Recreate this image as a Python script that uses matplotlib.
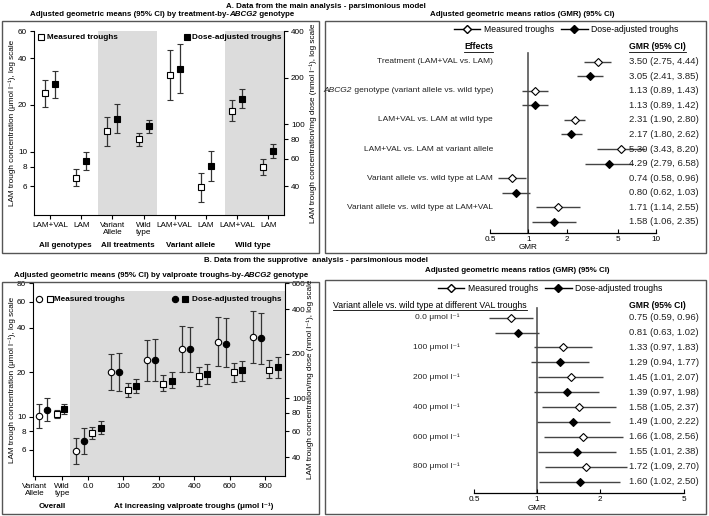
import matplotlib
matplotlib.use("Agg")
import matplotlib.pyplot as plt
import numpy as np
from matplotlib.lines import Line2D
from matplotlib.patches import Rectangle
from matplotlib.ticker import FixedLocator, FuncFormatter, NullLocator
from matplotlib.transforms import blended_transform_factory

plt.rcParams["font.family"] = ["Liberation Sans", "DejaVu Sans"]
plt.rcParams["font.size"] = 5.9

# ---- A, left: geometric means by treatment-by-ABCG2 genotype
cat_labels_a = ["LAM+VAL", "LAM", "Variant\nAllele", "Wild\ntype", "LAM+VAL", "LAM", "LAM+VAL", "LAM"]
group_labels_a = ["All genotypes", "All treatments", "Variant allele", "Wild type"]
meas_a = [23.9, 6.8, 13.5, 12.1, 31.1, 5.9, 18.4, 7.9]
meas_a_lo = [19.4, 6.0, 10.9, 10.9, 21.5, 4.7, 15.8, 7.05]
meas_a_hi = [29.0, 7.7, 16.7, 13.2, 45.3, 7.3, 21.4, 8.9]
dose_a = [181, 58.3, 108.6, 97, 229, 53.8, 145.6, 66.9]
dose_a_lo = [147, 51, 88, 88, 159, 42.8, 127, 60.2]
dose_a_hi = [221, 66, 135, 106, 331, 67, 169, 74.6]

# ---- A, right: GMR forest (italic parts given as (text, style) pairs)
effects_a = ["Treatment (LAM+VAL vs. LAM)",
             [("ABCG2", "italic"), (" genotype (variant allele vs. wild type)", "normal")],
             "LAM+VAL vs. LAM at wild type", "LAM+VAL vs. LAM at variant allele",
             "Variant allele vs. wild type at LAM", "Variant allele vs. wild type at LAM+VAL"]
gmr_meas_a = [3.50, 1.13, 2.31, 5.30, 0.74, 1.71]
gmr_meas_a_lo = [2.75, 0.89, 1.90, 3.43, 0.58, 1.14]
gmr_meas_a_hi = [4.44, 1.43, 2.80, 8.20, 0.96, 2.55]
gmr_dose_a = [3.05, 1.13, 2.17, 4.29, 0.80, 1.58]
gmr_dose_a_lo = [2.41, 0.89, 1.80, 2.79, 0.62, 1.06]
gmr_dose_a_hi = [3.85, 1.42, 2.62, 6.58, 1.03, 2.35]

# ---- B, left: geometric means by valproate troughs-by-ABCG2 genotype
overall_labels = ["Variant\nAllele", "Wild\ntype"]
overall_meas = [10.1, 10.4]
overall_meas_lo = [8.4, 9.75]
overall_meas_hi = [12.2, 11.1]
overall_dose = [82.9, 84.5]
overall_dose_lo = [70, 78]
overall_dose_hi = [100.8, 91.6]
val_levels = ["0.0", "100", "200", "400", "600", "800"]
var_meas = [5.89, 20.0, 24.1, 28.7, 32.2, 34.8]
var_meas_lo = [4.83, 15.2, 17.4, 20.2, 22.0, 23.2]
var_meas_hi = [7.21, 26.5, 32.9, 41.3, 47.1, 52.0]
var_dose = [51.4, 151.7, 181, 215, 235, 255]
var_dose_lo = [41.9, 112, 132, 150, 162, 170]
var_dose_hi = [63, 203, 251, 304, 347, 376]
wt_meas = [7.72, 15.3, 16.8, 18.9, 20.0, 20.7]
wt_meas_lo = [7.07, 13.7, 14.9, 16.2, 17.1, 18.2]
wt_meas_hi = [8.5, 17.0, 19.1, 21.6, 23.2, 24.2]
wt_dose = [63.2, 121, 132, 146, 155, 162]
wt_dose_lo = [57, 108, 117, 126, 131, 138]
wt_dose_hi = [70.5, 135, 150, 170, 180, 191]

# ---- B, right: GMR forest by VAL trough
gmr_meas_b = [0.75, 1.33, 1.45, 1.58, 1.66, 1.72]
gmr_meas_b_lo = [0.59, 0.97, 1.01, 1.05, 1.08, 1.09]
gmr_meas_b_hi = [0.96, 1.83, 2.07, 2.37, 2.56, 2.70]
gmr_dose_b = [0.81, 1.29, 1.39, 1.49, 1.55, 1.60]
gmr_dose_b_lo = [0.63, 0.94, 0.97, 1.00, 1.01, 1.02]
gmr_dose_b_hi = [1.02, 1.77, 1.98, 2.22, 2.38, 2.50]

W, H = 709, 516
fig = plt.figure(figsize=(W / 100, H / 100), dpi=100)
renderer = fig.canvas.get_renderer()
SHADE = "#dcdcdc"
ECOL = "#333333"
TITLE_FS = 5.65
SUB_FS = 5.7
LEG_FS = 5.9
GROUP_FS = 5.8
ROW_FS = 6.8
LAB_FS = 6.0
HEAD_FS = 6.2


def rect(x0, y0, x1, y1):
    """Pixel box (top-left origin) -> figure fraction rect."""
    return [x0 / W, 1 - y1 / H, (x1 - x0) / W, (y1 - y0) / H]


def ftext(px, py, s, **kw):
    return fig.text(px / W, 1 - py / H, s, **kw)


def rich(xd, yd, parts, ha="center", **kw):
    """Draw (text, style) parts side by side; xd, yd in display pixels."""
    texts = [fig.text(0, 0, s, fontstyle=st, va="center", **kw) for s, st in parts]
    widths = [t.get_window_extent(renderer).width for t in texts]
    start = xd - {"center": 0.5, "right": 1.0, "left": 0.0}[ha] * sum(widths)
    for t, w in zip(texts, widths):
        t.set_position((start / W, yd / H))
        start += w
    return texts


def fmarker(px, py, marker, filled):
    fig.add_artist(Line2D([px / W], [1 - py / H], marker=marker, ms=4.5, mec="black",
                          mfc="black" if filled else "white", mew=0.8, ls="none",
                          transform=fig.transFigure))


def underline(txt, lw=0.6):
    bb = txt.get_window_extent(renderer)
    y = (bb.y0 - 0.3) / H
    fig.add_artist(Line2D([bb.x0 / W, bb.x1 / W], [y, y], transform=fig.transFigure,
                          color="black", lw=lw))


def err(v, lo, hi):
    v, lo, hi = np.asarray(v), np.asarray(lo), np.asarray(hi)
    return [v - lo, hi - v]


def means_errorbar(ax, x, v, lo, hi, marker, filled):
    ax.errorbar(x, v, yerr=err(v, lo, hi), fmt=marker, ms=4.6, mec="black",
                mfc="black" if filled else "white", mew=0.8, ecolor=ECOL,
                elinewidth=0.9, capsize=2.5, capthick=0.9, zorder=3)


def style_means_axes(ax, ax2, lticks, rticks):
    for a, ticks in ((ax, lticks), (ax2, rticks)):
        a.yaxis.set_major_locator(FixedLocator(ticks))
        a.yaxis.set_major_formatter(FuncFormatter(lambda v, p: f"{v:g}"))
        a.yaxis.set_minor_locator(NullLocator())
        a.spines["top"].set_visible(False)
        a.tick_params(length=3, width=0.8, pad=2)
    ax.spines["right"].set_visible(False)
    ax2.spines["left"].set_visible(False)
    ax2.spines["bottom"].set_visible(False)
    for s in ("left", "bottom"):
        ax.spines[s].set_linewidth(0.8)
    ax2.spines["right"].set_linewidth(0.8)


# frames
for x0, y0, x1, y1 in [(2, 21, 319, 253), (325, 21, 706, 253), (2, 282, 319, 514), (325, 280, 706, 514)]:
    fig.add_artist(Rectangle((x0 / W, 1 - y1 / H), (x1 - x0) / W, (y1 - y0) / H, fill=False,
                             ec="#555555", lw=1, transform=fig.transFigure))

bold = dict(fontweight="bold", ha="center", va="center")
ftext(326, 6, "A. Data from the main analysis - parsimonious model", fontsize=TITLE_FS, **bold)
ftext(316, 261, "B. Data from the supprotive  analysis - parsimonious model", fontsize=TITLE_FS, **bold)
rich(162, H - 15, [("Adjusted geometric means (95% CI) by treatment-by-", "normal"), ("ABCG2", "italic"),
                   (" genotype", "normal")], fontweight="bold", fontsize=SUB_FS)
rich(161, H - 275.5, [("Adjusted geometric means (95% CI) by valproate troughs-by-", "normal"),
                      ("ABCG2", "italic"), (" genotype", "normal")], fontweight="bold", fontsize=SUB_FS)
ftext(522, 15, "Adjusted geometric means ratios (GMR) (95% CI)", fontsize=SUB_FS, **bold)
ftext(517, 271, "Adjusted geometric means ratios (GMR) (95% CI)", fontsize=SUB_FS, **bold)

# ================= A left =================
ax = fig.add_axes(rect(34, 31, 284, 215))
ax2 = ax.twinx()
ratio_a = 400 / 60
ax.set_yscale("log")
ax2.set_yscale("log")
ylim_a = (3.9, 60)
ax.set_ylim(*ylim_a)
ax2.set_ylim(ylim_a[0] * ratio_a, ylim_a[1] * ratio_a)
xa = np.arange(len(cat_labels_a))
ax.set_xlim(-0.51, 7.5)
ax.axvspan(1.54, 3.43, color=SHADE, lw=0, zorder=0)
ax.axvspan(5.61, 7.5, color=SHADE, lw=0, zorder=0)
means_errorbar(ax, xa - 0.16, meas_a, meas_a_lo, meas_a_hi, "s", False)
means_errorbar(ax2, xa + 0.16, dose_a, dose_a_lo, dose_a_hi, "s", True)
ax.set_xticks(xa)
ax.set_xticklabels(cat_labels_a, linespacing=1.0)
style_means_axes(ax, ax2, [6, 8, 10, 20, 40, 60], [40, 60, 80, 100, 200, 400])
tr = blended_transform_factory(ax.transData, ax.transAxes)
for i, g in enumerate(group_labels_a):
    ax.text(2 * i + 0.5, -0.168, g, transform=tr, fontweight="bold", fontsize=GROUP_FS,
            ha="center", va="center")
ftext(12, 123, "LAM trough concentration (μmol l⁻¹), log scale", rotation=90, ha="center", va="center")
ftext(313, 123, "LAM trough concentration/mg dose (nmol l⁻¹), log scale", rotation=90, ha="center", va="center")
fmarker(40.7, 37.3, "s", False)
ftext(46.7, 37.3, "Measured troughs", fontweight="bold", fontsize=LEG_FS, va="center")
fmarker(186.7, 37.3, "s", True)
ftext(281.7, 37.3, "Dose-adjusted troughs", fontweight="bold", fontsize=LEG_FS, va="center", ha="right")

# ================= B left =================
bx = fig.add_axes(rect(33, 283.3, 285, 475.7))
bx2 = bx.twinx()
ratio_b = 600 / 80
bx.set_yscale("log")
bx2.set_yscale("log")
ylim_b = (4, 80)
bx.set_ylim(*ylim_b)
bx2.set_ylim(ylim_b[0] * ratio_b, ylim_b[1] * ratio_b)
bx.set_xlim(0.45, 7.56)
bx.axvspan(1.49, 7.56, ymax=0.96, color=SHADE, lw=0, zorder=0)
xo = np.array([0.73, 1.22])
means_errorbar(bx, xo[:1] - 0.11, overall_meas[:1], overall_meas_lo[:1], overall_meas_hi[:1], "o", False)
means_errorbar(bx2, xo[:1] + 0.11, overall_dose[:1], overall_dose_lo[:1], overall_dose_hi[:1], "o", True)
means_errorbar(bx, xo[1:] - 0.10, overall_meas[1:], overall_meas_lo[1:], overall_meas_hi[1:], "s", False)
means_errorbar(bx2, xo[1:] + 0.10, overall_dose[1:], overall_dose_lo[1:], overall_dose_hi[1:], "s", True)
xv = np.arange(len(val_levels)) + 2
means_errorbar(bx, xv - 0.34, var_meas, var_meas_lo, var_meas_hi, "o", False)
means_errorbar(bx2, xv - 0.11, var_dose, var_dose_lo, var_dose_hi, "o", True)
means_errorbar(bx, xv + 0.12, wt_meas, wt_meas_lo, wt_meas_hi, "s", False)
means_errorbar(bx2, xv + 0.36, wt_dose, wt_dose_lo, wt_dose_hi, "s", True)
bx.set_xticks([0.5, 1.27] + list(xv))
bx.set_xticklabels(overall_labels + val_levels, linespacing=1.0)
style_means_axes(bx, bx2, [6, 8, 10, 20, 40, 60, 80], [40, 60, 80, 100, 200, 400, 600])
trb = blended_transform_factory(bx.transData, bx.transAxes)
bx.text(1.0, -0.161, "Overall", transform=trb, fontweight="bold", fontsize=GROUP_FS,
        ha="center", va="center")
bx.text(4.97, -0.161, "At increasing valproate troughs (μmol l⁻¹)", transform=trb,
        fontweight="bold", fontsize=GROUP_FS, ha="center", va="center")
ftext(12, 379.5, "LAM trough concentration (μmol l⁻¹), log scale", rotation=90, ha="center", va="center")
ftext(310, 379.5, "LAM trough concentration/mg dose (nmol l⁻¹), log scale", rotation=90, ha="center", va="center")
fmarker(39, 299.3, "o", False)
fmarker(50, 299.3, "s", False)
ftext(54, 299.3, "Measured troughs", fontweight="bold", fontsize=LEG_FS, va="center")
fmarker(175, 299.3, "o", True)
fmarker(185, 299.3, "s", True)
ftext(281.7, 299.3, "Dose-adjusted troughs", fontweight="bold", fontsize=LEG_FS, va="center", ha="right")


# ================= forest plots =================
def forest(box, xlim, xticks, ylim, m, mlo, mhi, d, dlo, dhi, labels, lab_x, gmr_x, lab_fs):
    fx = fig.add_axes(rect(*box))
    fx.set_xscale("log")
    fx.set_xlim(*xlim)
    fx.set_ylim(*ylim)
    fx.patch.set_alpha(0)
    rows = np.arange(len(m)) * 2
    fx.plot([1, 1], [-0.62, ylim[0]], color="#555555", lw=1.2, zorder=1)
    fx.errorbar(m, rows, xerr=err(m, mlo, mhi), fmt="D", ms=4.3, mec="black", mfc="white",
                mew=0.8, ecolor="#444444", elinewidth=1, capsize=0, zorder=3)
    fx.errorbar(d, rows + 1, xerr=err(d, dlo, dhi), fmt="D", ms=4.3, mec="black", mfc="black",
                mew=0.8, ecolor="#444444", elinewidth=1, capsize=0, zorder=3)
    trf = blended_transform_factory(fx.transAxes, fx.transData)
    for r, lab in zip(rows, labels):
        if isinstance(lab, str):
            fx.text(lab_x, r, lab, transform=trf, ha="right", va="center", color="#222222",
                    fontsize=lab_fs)
        else:
            xd, yd = trf.transform((lab_x, r))
            rich(xd, yd, lab, ha="right", color="#222222", fontsize=lab_fs)
    for rr, v, lo, hi in zip(np.concatenate([rows, rows + 1]), m + d, mlo + dlo, mhi + dhi):
        fx.text(gmr_x, rr, f"{v:.2f} ({lo:.2f}, {hi:.2f})", transform=trf, va="center",
                color="#222222", fontsize=ROW_FS)
    for s in ("left", "right", "top"):
        fx.spines[s].set_visible(False)
    fx.spines["bottom"].set_linewidth(0.9)
    fx.set_yticks([])
    fx.xaxis.set_major_locator(FixedLocator(xticks))
    fx.xaxis.set_major_formatter(FuncFormatter(lambda v, p: f"{v:g}"))
    fx.xaxis.set_minor_locator(NullLocator())
    fx.tick_params(axis="x", direction="in", length=3, width=0.8, pad=2)
    fx.text(1, -0.07, "GMR", transform=blended_transform_factory(fx.transData, fx.transAxes),
            ha="center", va="center")
    return fx, trf


fa, tra = forest((490, 22, 656, 233), (0.5, 10), [0.5, 1, 2, 5, 10], (11.77, -2.73),
                 gmr_meas_a, gmr_meas_a_lo, gmr_meas_a_hi, gmr_dose_a, gmr_dose_a_lo, gmr_dose_a_hi,
                 effects_a, 0.018, 0.837, LAB_FS)
t1 = fa.text(0.018, -1.03, "Effects", transform=tra, ha="right", va="center", fontweight="bold",
             fontsize=HEAD_FS)
t2 = fa.text(0.837, -1.03, "GMR (95% CI)", transform=tra, va="center", fontweight="bold",
             fontsize=HEAD_FS)

val_row_labels = [f"{v} μmol l⁻¹" for v in val_levels]
fb, trb2 = forest((474, 280, 683.5, 493.3), (0.5, 5), [0.5, 1, 2, 5], (11.79, -2.53),
                  gmr_meas_b, gmr_meas_b_lo, gmr_meas_b_hi, gmr_dose_b, gmr_dose_b_lo, gmr_dose_b_hi,
                  val_row_labels, -0.067, 0.741, LAB_FS)
t3 = fb.text(-0.673, -0.85, "Variant allele vs. wild type at different VAL troughs", transform=trb2,
             va="center", fontsize=6.3)
fb.text(0.741, -0.85, "GMR (95% CI)", transform=trb2, va="center", fontweight="bold", fontsize=HEAD_FS)

handles = [Line2D([], [], color="black", lw=1, marker="D", ms=4.3, mfc="white", mec="black"),
           Line2D([], [], color="black", lw=1, marker="D", ms=4.3, mfc="black", mec="black")]
for cx, cy in ((566, 29.3), (550, 288.3)):
    fig.legend(handles, ["Measured troughs", "Dose-adjusted troughs"], ncol=2, frameon=False,
               loc="center", bbox_to_anchor=(cx / W, 1 - cy / H), handlelength=3.1,
               columnspacing=0.8, handletextpad=0.4, fontsize=6.2)

for t in (t1, t2, t3):
    underline(t)

fig.savefig("out.png", dpi=100)
